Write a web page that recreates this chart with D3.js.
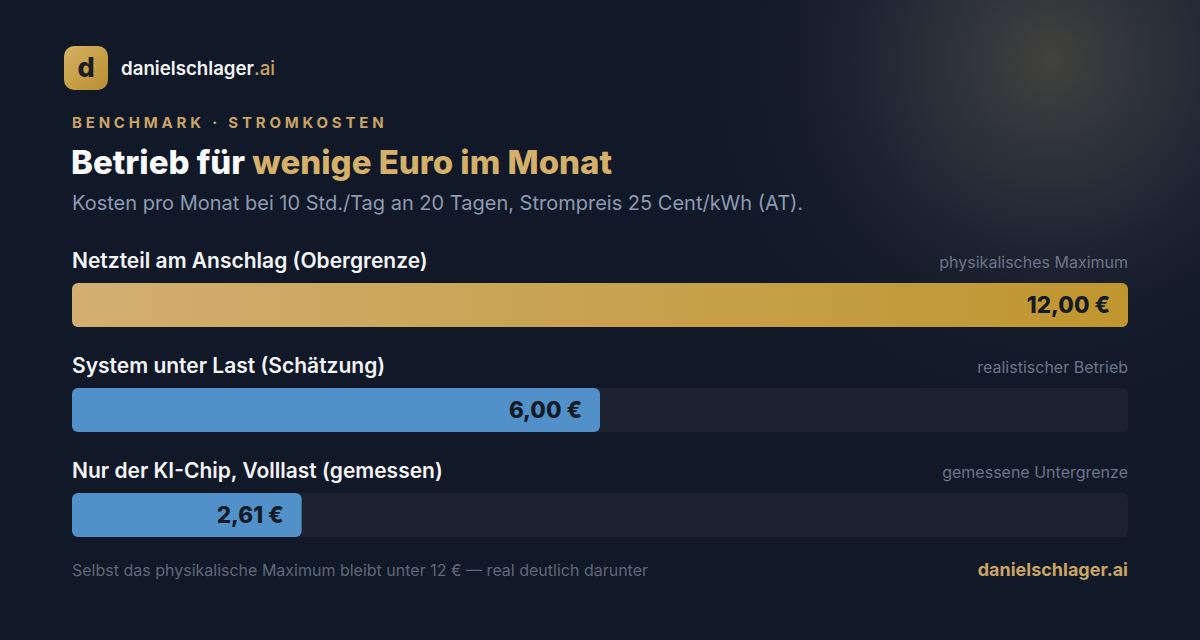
<!DOCTYPE html>
<html>
<head>
<meta charset="utf-8">
<script src="https://cdn.jsdelivr.net/npm/d3@7"></script>
<style>
  html, body { margin: 0; padding: 0; background: #111827; }
  #chart { width: 1200px; height: 640px; }
  svg text { font-family: Inter, 'Noto Sans', sans-serif; }
</style>
</head>
<body>
<div id="chart"></div>
<script>
(function () {
  'use strict';

  var categories = [
    'Netzteil am Anschlag (Obergrenze)',
    'System unter Last (Schätzung)',
    'Nur der KI-Chip, Volllast (gemessen)'
  ];
  var notes = ['physikalisches Maximum', 'realistischer Betrieb', 'gemessene Untergrenze'];
  var values = [12.00, 6.00, 2.61];
  var kinds = ['gold', 'blue', 'blue'];
  var domainMax = 12;

  var width = 1200;
  var height = 640;
  var left = 72;
  var right = 1128;

  var svg = d3.select('#chart').append('svg')
    .attr('width', width).attr('height', height)
    .attr('viewBox', '0 0 ' + width + ' ' + height);

  var defs = svg.append('defs');

  var glow = defs.append('radialGradient').attr('id', 'glow')
    .attr('cx', 1050).attr('cy', 60).attr('r', 360)
    .attr('gradientUnits', 'userSpaceOnUse');
  glow.append('stop').attr('offset', '0%').attr('stop-color', '#42423d').attr('stop-opacity', 1);
  glow.append('stop').attr('offset', '40%').attr('stop-color', '#2d323d').attr('stop-opacity', 0.75);
  glow.append('stop').attr('offset', '100%').attr('stop-color', '#111827').attr('stop-opacity', 0);

  var goldBar = defs.append('linearGradient').attr('id', 'goldBar')
    .attr('x1', '0%').attr('x2', '100%').attr('y1', '0%').attr('y2', '0%');
  goldBar.append('stop').attr('offset', '0%').attr('stop-color', '#d2ae72');
  goldBar.append('stop').attr('offset', '100%').attr('stop-color', '#bf962e');

  var logoGrad = defs.append('linearGradient').attr('id', 'logoGrad')
    .attr('x1', '0%').attr('x2', '100%').attr('y1', '0%').attr('y2', '100%');
  logoGrad.append('stop').attr('offset', '0%').attr('stop-color', '#d6b263');
  logoGrad.append('stop').attr('offset', '100%').attr('stop-color', '#b88e30');

  svg.append('rect').attr('width', width).attr('height', height).attr('fill', '#111827');
  svg.append('rect').attr('width', width).attr('height', height).attr('fill', 'url(#glow)');

  // brand
  svg.append('rect').attr('x', 64).attr('y', 46).attr('width', 44).attr('height', 44)
    .attr('rx', 10).attr('fill', 'url(#logoGrad)');
  svg.append('text').attr('x', 86).attr('y', 77).attr('text-anchor', 'middle')
    .attr('font-size', '27px').attr('font-weight', 800).attr('fill', '#1a1d24').text('d');
  var brand = svg.append('text').attr('x', 121).attr('y', 75)
    .attr('font-size', '18.7px').attr('font-weight', 600).attr('fill', '#f3f4f6');
  brand.append('tspan').text('danielschlager');
  brand.append('tspan').attr('fill', '#c9a465').attr('font-weight', 500).text('.ai');

  svg.append('text').attr('x', 72).attr('y', 128)
    .attr('font-size', '15px').attr('font-weight', 700).attr('letter-spacing', '3.8px')
    .attr('fill', '#c9a465').text('BENCHMARK · STROMKOSTEN');

  var title = svg.append('text').attr('x', 71).attr('y', 174)
    .attr('font-size', '33px').attr('font-weight', 800)
    .attr('fill', '#f8fafc');
  title.append('tspan').text('Betrieb für ');
  title.append('tspan').attr('fill', '#d4b06a').text('wenige Euro im Monat');

  svg.append('text').attr('x', 72).attr('y', 210)
    .attr('font-size', '20px').attr('fill', '#8d9bb3')
    .text('Kosten pro Monat bei 10 Std./Tag an 20 Tagen, Strompreis 25 Cent/kWh (AT).');

  var x = d3.scaleLinear().domain([0, domainMax]).range([left, right]);
  var y = d3.scaleBand().domain(d3.range(categories.length)).range([250, 565]).paddingInner(0);
  var barH = 44;
  var barOffset = 33;

  var rows = svg.append('g').selectAll('g.row')
    .data(values).enter().append('g')
    .attr('class', 'row')
    .attr('transform', function (d, i) { return 'translate(0,' + y(i) + ')'; });

  rows.append('text').attr('x', left).attr('y', 18)
    .attr('font-size', '21px').attr('font-weight', 600).attr('fill', '#f3f4f6')
    .text(function (d, i) { return categories[i]; });

  rows.append('text').attr('x', right).attr('y', 18).attr('text-anchor', 'end')
    .attr('font-size', '16px').attr('fill', '#6b7588')
    .text(function (d, i) { return notes[i]; });

  rows.append('rect').attr('x', x(0)).attr('y', barOffset)
    .attr('width', x(domainMax) - x(0)).attr('height', barH)
    .attr('rx', 6).attr('fill', '#1c2130');

  rows.append('rect').attr('x', x(0)).attr('y', barOffset)
    .attr('width', function (d) { return x(d) - x(0); }).attr('height', barH)
    .attr('rx', 6)
    .attr('fill', function (d, i) { return kinds[i] === 'gold' ? 'url(#goldBar)' : '#5190c8'; });

  rows.append('text')
    .attr('x', function (d) { return x(d) - 18; })
    .attr('y', barOffset + 30)
    .attr('text-anchor', 'end')
    .attr('font-size', '22.5px').attr('font-weight', 800).attr('fill', '#141a26')
    .text(function (d) { return d3.format('.2f')(d).replace('.', ',') + ' €'; });

  svg.append('text').attr('x', 72).attr('y', 576)
    .attr('font-size', '16px').attr('fill', '#5f6879')
    .text('Selbst das physikalische Maximum bleibt unter 12 € — real deutlich darunter');
  svg.append('text').attr('x', right).attr('y', 576).attr('text-anchor', 'end')
    .attr('font-size', '18px').attr('font-weight', 700).attr('fill', '#c9a465')
    .text('danielschlager.ai');
})();
</script>
</body>
</html>
